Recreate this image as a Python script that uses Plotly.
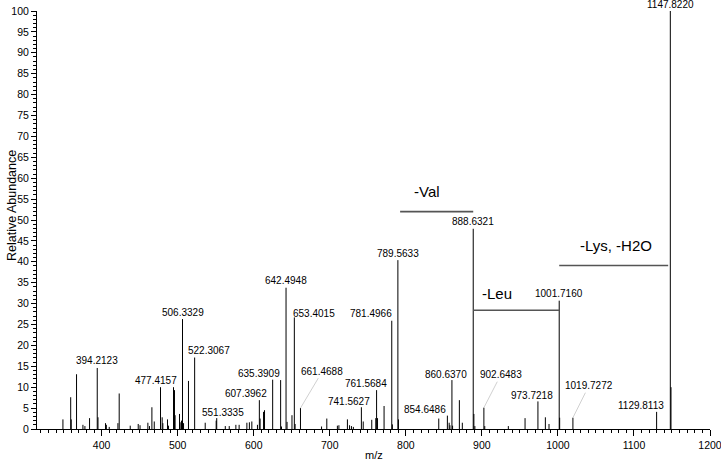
import numpy as np
import plotly.graph_objects as go

# ---- data ----
mz = [349.1, 359.3, 360.0, 367.0, 375.4, 378.0, 384.1, 394.2123, 395.2,
      405.1, 406.2, 410.0, 421.4, 423.1, 437.6, 448.1, 450.5, 460.8, 462.9,
      466.1, 469.2, 477.4157, 479.6, 480.5, 486.6, 487.9, 494.5, 495.8, 496.6,
      502.4, 504.2, 505.0, 506.3329, 507.7, 514.2, 522.3067,
      536.2, 550.6, 551.3335, 562.6, 567.8, 576.5, 580.8, 591.0, 594.3, 597.5,
      604.9, 607.3962, 608.4, 612.9, 614.2, 624.9, 635.3909, 636.5, 642.4948,
      643.8, 650.3, 653.4015, 654.4, 661.4688, 689.2, 696.1, 710.0, 712.0,
      723.2, 726.0, 728.5, 731.0, 741.5627, 744.0,
      755.2, 760.5, 761.5684, 762.8, 771.4, 781.4966, 782.3, 789.5633, 790.3,
      843.3, 854.6486, 857.0, 858.0, 860.6370, 861.5, 870.4, 874.3, 888.6321,
      889.5, 890.8, 902.6483, 903.8, 934.8, 956.8, 973.7218, 983.5, 988.3,
      1001.7160, 1002.3, 1019.7272, 1129.8113, 1147.8220, 1148.7]
intensity = [2.3, 7.6, 2.3, 13.1, 1.0, 0.7, 2.6, 14.6, 2.8,
             1.4, 1.0, 0.5, 1.4, 8.5, 0.8, 1.2, 0.9, 1.5, 0.7,
             5.2, 1.8, 10.0, 2.8, 1.4, 2.3, 0.8, 10.0, 9.3, 3.3,
             3.6, 1.6, 2.0, 26.3, 1.4, 11.5, 17.1,
             1.5, 2.0, 2.6, 0.7, 0.7, 1.0, 1.0, 1.5, 1.6, 1.8,
             1.0, 6.9, 2.5, 4.1, 4.5, 11.8, 11.7, 0.6, 33.8,
             1.7, 3.3, 26.7, 1.2, 5.0, 0.6, 2.5, 0.8, 0.9,
             2.3, 0.9, 0.7, 0.5, 5.2, 1.8,
             2.2, 2.6, 9.3, 2.6, 5.5, 25.9, 1.1, 40.4, 2.3,
             2.5, 3.2, 1.5, 0.9, 11.7, 0.8, 6.9, 1.5, 47.9,
             3.6, 0.7, 5.1, 0.7, 0.7, 2.6, 6.6, 2.8, 1.2,
             30.7, 2.7, 2.7, 4.1, 100.0, 10.0]

labeled_mz = [394.2123, 477.4157, 506.3329, 522.3067, 551.3335, 607.3962,
              635.3909, 642.4948, 653.4015, 661.4688, 741.5627, 761.5684,
              781.4966, 789.5633, 854.6486, 860.6370, 888.6321, 902.6483,
              973.7218, 1001.7160, 1019.7272, 1129.8113, 1147.8220]

loss_labels = ["-Val", "-Leu", "-Lys, -H2O"]
loss_from = [792.5, 888.6321, 1001.7160]
loss_to = [888.6321, 1001.7160, 1145.0]
loss_level = [52.0, 28.4, 39.1]
loss_text_mz = [827.5, 920.4, 1076.0]
loss_text_y = [56.7, 32.5, 43.9]

x_ticks = [400, 500, 600, 700, 800, 900, 1000, 1100, 1200]
y_ticks = list(range(0, 101, 5))

# ---- label placement (pixel offsets: dx, dy, leader) ----
label_offsets = {
    477.4157: (-5, 7), 522.3067: (14, 7), 551.3335: (6, 6), 607.3962: (-13, 7),
    635.3909: (-22, 7), 653.4015: (20, 4), 741.5627: (-12, 6), 761.5684: (-11, 7),
    781.4966: (-21, 7), 854.6486: (-22, 6), 860.6370: (-6, 6), 973.7218: (-6, 6),
    1129.8113: (-16, 6),
}
leader_offsets = {661.4688: (22, -37), 902.6483: (17, -33), 1019.7272: (16, -32)}

FONT = "Liberation Sans, Arial, Helvetica, sans-serif"

# build stick spectrum
xs, ys = [], []
for m, v in zip(mz, intensity):
    xs += [m, m, None]
    ys += [0, v, None]

fig = go.Figure()
fig.add_trace(go.Scatter(x=xs, y=ys, mode="lines",
                         line=dict(color="black", width=1),
                         hoverinfo="skip", showlegend=False))

inten_map = dict(zip(mz, intensity))
annotations = []
for m in labeled_mz:
    v = inten_map[m]
    txt = f"{m:.4f}"
    if m in leader_offsets:
        ax, ay = leader_offsets[m]
        annotations.append(dict(x=m, y=v, xref="x", yref="y", text=txt,
                                showarrow=True, arrowhead=0, arrowwidth=0.6,
                                arrowcolor="#b0b0b0", ax=ax, ay=ay, standoff=0,
                                font=dict(family=FONT, size=10, color="black")))
    else:
        dx, dy = label_offsets.get(m, (0, 7))
        annotations.append(dict(x=m, y=v, xref="x", yref="y", text=txt,
                                showarrow=False, xanchor="center", yanchor="middle",
                                xshift=dx, yshift=dy,
                                font=dict(family=FONT, size=10, color="black")))

shapes = []
for lab, a, b, lv, tx, ty in zip(loss_labels, loss_from, loss_to, loss_level,
                                 loss_text_mz, loss_text_y):
    shapes.append(dict(type="line", xref="x", yref="y", x0=a, x1=b, y0=lv, y1=lv,
                       line=dict(color="#555555", width=1.6)))
    annotations.append(dict(x=tx, y=ty, xref="x", yref="y", text=lab,
                            showarrow=False, xanchor="center", yanchor="middle",
                            font=dict(family=FONT, size=15, color="black")))

# axis titles as paper annotations
annotations.append(dict(x=0.5, y=0, xref="paper", yref="paper", text="m/z",
                        showarrow=False, xanchor="center", yanchor="middle",
                        yshift=-26, font=dict(family=FONT, size=11, color="black")))
annotations.append(dict(x=0, y=0.5, xref="paper", yref="paper",
                        text="Relative Abundance", textangle=-90,
                        showarrow=False, xanchor="center", yanchor="middle",
                        xshift=-25, yshift=14,
                        font=dict(family=FONT, size=12.5, color="black")))

fig.update_layout(
    width=721, height=460,
    margin=dict(l=37, r=11, t=11, b=31),
    paper_bgcolor="white", plot_bgcolor="white",
    font=dict(family=FONT, size=10, color="black"),
    annotations=annotations, shapes=shapes,
    xaxis=dict(range=[315, 1200], tickvals=x_ticks, ticks="outside", ticklen=6,
               tickcolor="black", tickwidth=1, showline=True, linecolor="black",
               linewidth=1, showgrid=False, zeroline=False, automargin=False,
               ticklabeloverflow="allow",
               tickfont=dict(family=FONT, size=10.5),
               minor=dict(dtick=10, tick0=0, ticks="outside", ticklen=3,
                          tickcolor="black", showgrid=False)),
    yaxis=dict(range=[0, 100], tickvals=y_ticks, ticks="outside", ticklen=5,
               tickcolor="black", tickwidth=1, showline=True, linecolor="black",
               linewidth=1, showgrid=False, zeroline=False, automargin=False,
               ticklabeloverflow="allow",
               tickfont=dict(family=FONT, size=10.5),
               minor=dict(dtick=1, tick0=0, ticks="outside", ticklen=3,
                          tickcolor="black", showgrid=False)),
)

fig.write_html("out.html", config={"displayModeBar": False},
               post_script="document.body.style.margin='0';document.body.style.overflow='hidden';")
